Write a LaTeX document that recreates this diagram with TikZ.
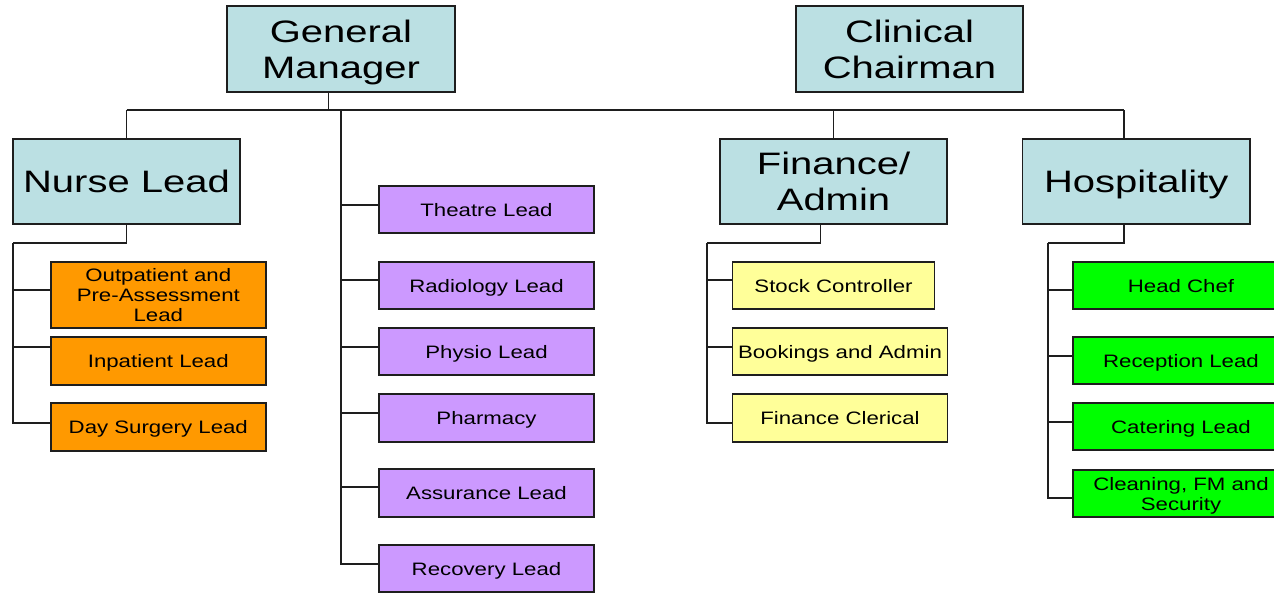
\documentclass[tikz,border=0pt]{standalone}
\usepackage{fontspec}
\usepackage{xcolor}
\newfontfamily\bigfont{Liberation Sans}[FakeStretch=1.29]
\newfontfamily\leadfont{Liberation Sans}[FakeStretch=1.235]

\begin{document}
\begin{tikzpicture}[x=1pt,y=-1pt,
  headbox/.style={draw=edge,line width=1.6pt,fill=paleblue,inner sep=0pt,align=center,
    text depth=0pt,font=\bigfont\fontsize{31}{36}\selectfont},
  leadbox/.style={draw=edge,line width=1.6pt,inner sep=0pt,align=center,
    text depth=0pt,font=\leadfont\fontsize{18}{20}\selectfont},
  link/.style={draw=edge,line width=1.3pt}]
\definecolor{edge}{HTML}{1E1E1E}
\definecolor{paleblue}{HTML}{BBE0E3}
\definecolor{nurseorange}{HTML}{FF9900}
\definecolor{leadpurple}{HTML}{CC99FF}
\definecolor{adminyellow}{HTML}{FFFF99}
\definecolor{hospgreen}{HTML}{00FF00}
\path[use as bounding box,fill=white] (0,0) rectangle (1274,592);
\clip (0,0) rectangle (1274,592);

% top level
\node [headbox,minimum width=228,minimum height=86] (gm) at (341,49) {General\\Manager};
\node [headbox,minimum width=227,minimum height=86] (cc) at (909.5,49) {Clinical\\Chairman};
\node [headbox,minimum width=227,minimum height=85] (nurse) at (126.5,181.5) {Nurse Lead};
\node [headbox,minimum width=227,minimum height=85] (fin) at (833.5,181.5) {Finance/\\Admin};
\node [headbox,minimum width=227.5,minimum height=85] (hosp) at (1136.25,181.5) {Hospitality};

% bus
\coordinate (busL) at (126.5,110);
\coordinate (busR) at (1124,110);
\coordinate (gmtap) at (328.6,110);
\coordinate (ptap) at (341,110);
\draw[link] (busL) -- (busR);
\draw[link] (gm.south -| gmtap) -- (gmtap);
\draw[link] (busL) -- (nurse.north);
\draw[link] (fin.north |- busR) -- (fin.north);
\draw[link] (busR) -- (hosp.north -| busR);

% spines
\coordinate (nspine) at (13,243);
\coordinate (fknee) at (820.7,243);
\coordinate (fspine) at (707,243);
\coordinate (hknee) at (1124,243);
\coordinate (hspine) at (1048,243);
\draw[link] (nurse.south) |- (nspine);
\draw[link] (fin.south -| fknee) -- (fknee) -- (fspine);
\draw[link] (hosp.south -| hknee) -- (hknee) -- (hspine);

% nurse leads
\foreach \nm/\yc/\bh/\tap/\txt in {outp/295/66/290/{Outpatient and\\Pre-Assessment\\Lead},
    inp/361/48/347/Inpatient Lead,dsl/427/48/423/Day Surgery Lead}
  {\node [leadbox,fill=nurseorange,minimum width=215,minimum height=\bh] (\nm) at (158.3,\yc) {\txt};
   \draw[link] (nspine) |- (\nm.west |- 0,\tap);}

% service leads
\foreach \nm/\yc/\bh/\tap/\txt in {theatre/209.5/47/205/Theatre Lead,radio/285.5/47/280/Radiology Lead,
    physio/351.5/47/347/Physio Lead,pharm/418/48/413/Pharmacy,assur/493/48/487/Assurance Lead,
    recov/568.5/47/564/Recovery Lead}
  {\node [leadbox,fill=leadpurple,minimum width=215,minimum height=\bh] (\nm) at (486.5,\yc) {\txt};
   \draw[link] (ptap) |- (\nm.west |- 0,\tap);}

% admin
\foreach \nm/\xc/\yc/\bw/\tap/\txt in {stock/833.5/285.5/202/280/Stock Controller,
    book/840/351.5/214.7/347/Bookings and Admin,cler/840/418/214.7/423/Finance Clerical}
  {\node [leadbox,fill=adminyellow,minimum width=\bw,minimum height=47.5] (\nm) at (\xc,\yc) {\txt};
   \draw[link] (fspine) |- (\nm.west |- 0,\tap);}

% hospitality
\foreach \nm/\yc/\tap/\txt in {chef/285.5/290/Head Chef,recep/360.5/356/Reception Lead,
    cater/426.5/422/Catering Lead,clean/493.5/498/{Cleaning, FM and\\Security}}
  {\node [leadbox,fill=hospgreen,minimum width=216,minimum height=47] (\nm) at (1181,\yc) {\txt};
   \draw[link] (hspine) |- (\nm.west |- 0,\tap);}
\end{tikzpicture}
\end{document}
